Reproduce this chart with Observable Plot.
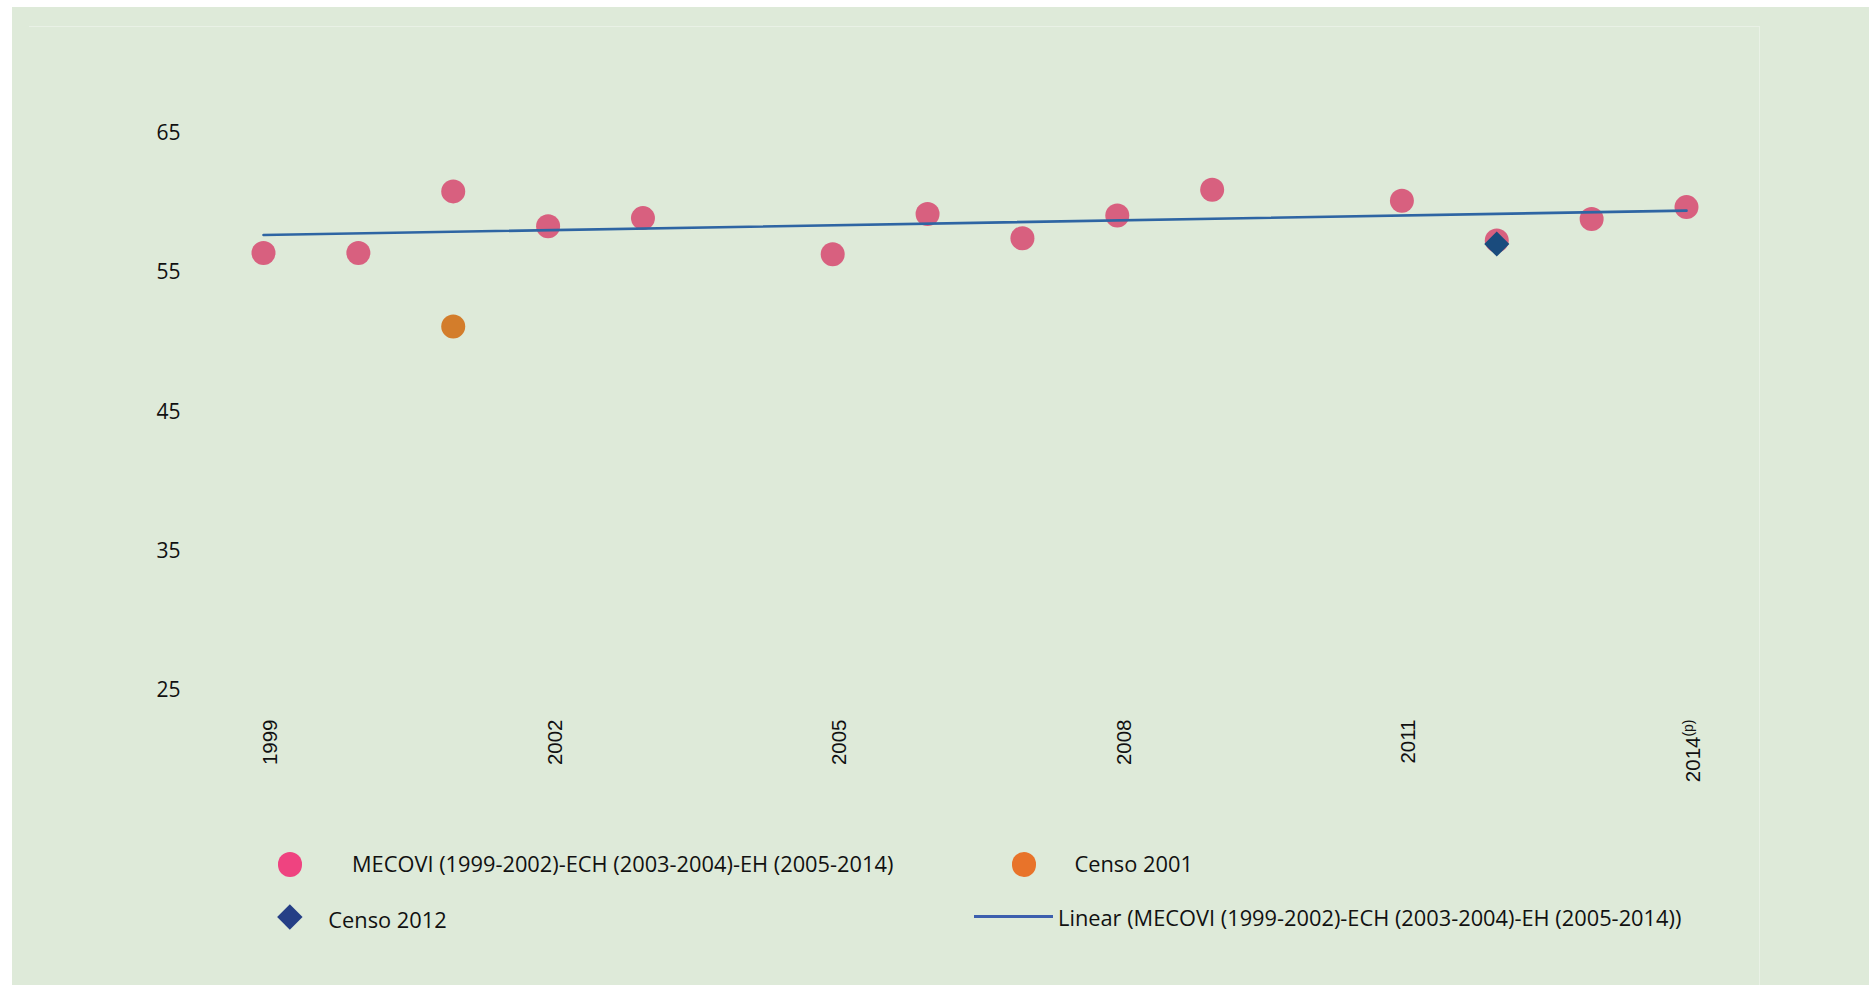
<!DOCTYPE html>
<html>
<head>
<meta charset="utf-8">
<script src="https://cdn.jsdelivr.net/npm/d3@7"></script>
<script src="https://cdn.jsdelivr.net/npm/@observablehq/plot@0.6"></script>
<style>
  html, body { margin: 0; padding: 0; background: #ffffff; width: 1869px; height: 985px; overflow: hidden; }
  #bg { position: absolute; left: 12px; top: 7px; width: 1857px; height: 978px; background: #deead9; }
  #frame { position: absolute; left: 29px; top: 26px; width: 1731px; height: 965px;
           border-top: 1px solid #e9f1e6; border-right: 1px solid #e9f1e6; box-sizing: border-box; }
  #chart { position: absolute; left: 0; top: 0; }
  .leg { position: absolute; font-family: "Open Sans", sans-serif; font-size: 21.8px; line-height: 22px;
         color: #111; white-space: nowrap; }
  .sw { position: absolute; }
</style>
</head>
<body>
<div id="bg"></div>
<div id="frame"></div>
<div id="chart"></div>

<div class="sw" style="left:277.7px; top:852px; width:24.6px; height:24.6px; border-radius:50%; background:#ef4380;"></div>
<div class="leg" style="left:352px; top:852.8px;">MECOVI (1999-2002)-ECH (2003-2004)-EH (2005-2014)</div>

<div class="sw" style="left:1011.7px; top:852.4px; width:24.6px; height:24.6px; border-radius:50%; background:#e8732a;"></div>
<div class="leg" style="left:1074.5px; top:853px;">Censo 2001</div>

<div class="sw" style="left:281.15px; top:908.45px; width:17.7px; height:17.7px; background:#253f86; transform:rotate(45deg);"></div>
<div class="leg" style="left:328.3px; top:908.8px;">Censo 2012</div>

<div class="sw" style="left:974px; top:914.5px; width:78.5px; height:3px; background:#3c5fae;"></div>
<div class="leg" style="left:1058px; top:906.8px;">Linear (MECOVI (1999-2002)-ECH (2003-2004)-EH (2005-2014))</div>

<script>
// Series: MECOVI (1999-2002)-ECH (2003-2004)-EH (2005-2014)
const mecoviYears  = [1999, 2000, 2001, 2002, 2003, 2005, 2006, 2007, 2008, 2009, 2011, 2012, 2013, 2014];
const mecoviValues = [56.27, 56.27, 60.70, 58.19, 58.78, 56.18, 59.07, 57.33, 58.96, 60.82, 60.03, 57.18, 58.71, 59.57];

// Series: Censo 2001
const censo2001Years  = [2001];
const censo2001Values = [51.0];

// Series: Censo 2012
const censo2012Years  = [2012];
const censo2012Values = [56.92];

// Axis ticks
const xTickValues = [1999, 2002, 2005, 2008, 2011, 2014];
const xTickLabels = ["1999", "2002", "2005", "2008", "2011", "2014(p)"];
const yTickValues = [25, 35, 45, 55, 65];

const mecovi = mecoviYears.map((year, i) => ({year, value: mecoviValues[i]}));
const censo2001 = censo2001Years.map((year, i) => ({year, value: censo2001Values[i]}));
const censo2012 = censo2012Years.map((year, i) => ({year, value: censo2012Values[i]}));

const chart = Plot.plot({
  width: 1869,
  height: 800,
  marginLeft: 263,
  marginRight: 183,
  marginTop: 131,
  marginBottom: 112,
  style: {background: "transparent", overflow: "visible"},
  x: {domain: [1999, 2014]},
  y: {domain: [25, 65]},
  marks: [
    Plot.axisY({
      ticks: yTickValues, tickSize: 0, tickPadding: 83, label: null, dy: 2,
      tickFormat: d => String(d), fontSize: 21, fontFamily: "Open Sans", fill: "#111"
    }),
    Plot.axisX({
      ticks: xTickValues, tickSize: 0, tickRotate: -90, tickPadding: 31, label: null, dx: 7,
      tickFormat: d => xTickLabels[xTickValues.indexOf(d)], fontSize: 20.5,
      fontFamily: "Liberation Sans", fill: "#111"
    }),
    Plot.dot(mecovi, {x: "year", y: "value", r: 12, fill: "#d8607f"}),
    Plot.dot(censo2001, {x: "year", y: "value", r: 12, fill: "#d37d2b"}),
    Plot.linearRegressionY(mecovi, {x: "year", y: "value", stroke: "#2e65a3", strokeWidth: 2.6, ci: 0}),
    Plot.dot(censo2012, {x: "year", y: "value", r: 11.3, symbol: "diamond2", fill: "#1a4b7d"})
  ]
});

// superscript "(p)"
chart.querySelectorAll("text").forEach(t => {
  if (t.textContent === "2014(p)") {
    t.textContent = "2014";
    const ts = document.createElementNS("http://www.w3.org/2000/svg", "tspan");
    ts.setAttribute("dy", "-0.5em");
    ts.setAttribute("font-size", "0.68em");
    ts.textContent = "(p)";
    t.appendChild(ts);
  }
});

document.getElementById("chart").appendChild(chart);
</script>
</body>
</html>
